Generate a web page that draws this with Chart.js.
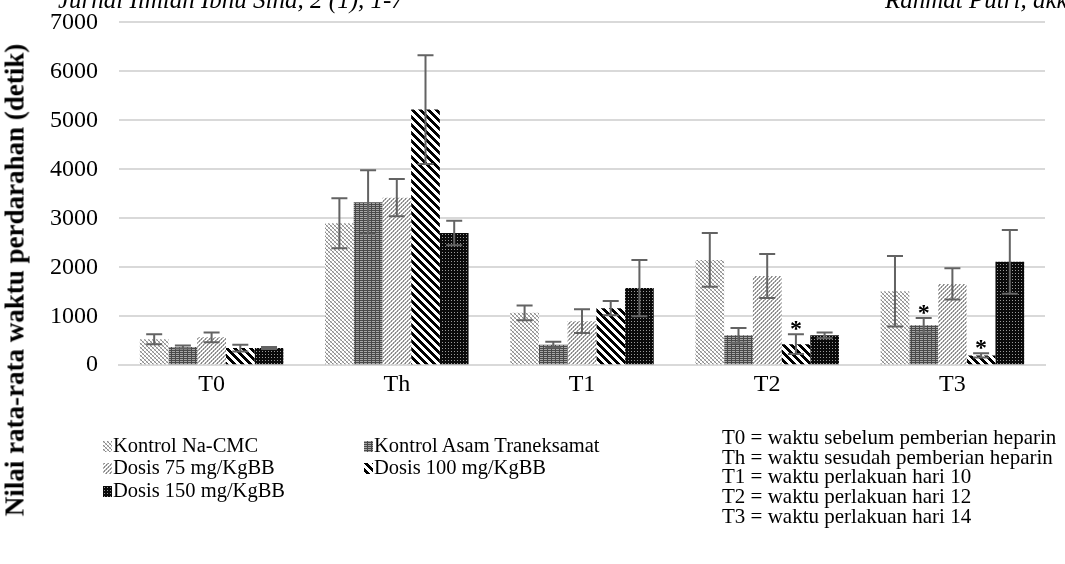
<!DOCTYPE html>
<html>
<head>
<meta charset="utf-8">
<script src="https://cdn.jsdelivr.net/npm/chart.js@4"></script>
<style>
  body { margin: 0; background: #fff; }
  #wrap { position: relative; width: 1065px; height: 564px; overflow: hidden; font-family: "Liberation Serif", "Times New Roman", serif; color: #000; }
  #chart { position: absolute; left: 0; top: -13px; }
  .hdr { position: absolute; top: -13px; font-size: 25px; line-height: 25px; font-style: italic; white-space: nowrap; }
  #ytitle { position: absolute; left: 15px; top: 280px; transform: translate(-50%, -50%) rotate(-90deg); font-size: 27px; font-weight: bold; white-space: nowrap; }
  .leg { position: absolute; font-size: 20.5px; line-height: 22px; white-space: nowrap; }
  .leg canvas { vertical-align: 0px; margin-right: 1px; }
  #notes { position: absolute; left: 722px; top: 428px; font-size: 21px; line-height: 19.7px; white-space: nowrap; }
</style>
</head>
<body>
<div id="wrap">
  <canvas id="chart" width="1065" height="577"></canvas>
  <div class="hdr" style="left:58px">Jurnal Ilmiah Ibnu Sina, 2 (1), 1-7</div>
  <div class="hdr" style="left:885px">Rahmat Putri, dkk.</div>
  <div id="ytitle">Nilai rata-rata waktu perdarahan (detik)</div>
  <div id="legend"></div>
  <div id="notes"></div>
</div>
<script>
// waktu pengamatan
var categories = ["T0", "Th", "T1", "T2", "T3"];

var seriesNames = ["Kontrol Na-CMC", "Kontrol Asam Traneksamat", "Dosis 75 mg/KgBB", "Dosis 100 mg/KgBB", "Dosis 150 mg/KgBB"];

// rata-rata waktu perdarahan (detik)
var naCmc    = [530, 2900, 1070, 2150, 1510];
var asam     = [370, 3330, 420, 610, 815];
var dosis75  = [570, 3420, 900, 1820, 1660];
var dosis100 = [350, 5220, 1165, 430, 200];
var dosis150 = [350, 2700, 1575, 610, 2110];

// simpangan (error bar)
var naCmcErr    = [100, 510, 150, 550, 720];
var asamErr     = [30, 650, 60, 150, 150];
var dosis75Err  = [100, 380, 245, 450, 320];
var dosis100Err = [70, 1110, 145, 200, 45];
var dosis150Err = [20, 250, 575, 60, 650];

// tanda * (seri, kategori)
var starSeries = [3, 1, 3];
var starCats   = ["T2", "T3", "T3"];

var yTicks = [0, 1000, 2000, 3000, 4000, 5000, 6000, 7000];

var notes = [
  "T0 = waktu sebelum pemberian heparin",
  "Th = waktu sesudah pemberian heparin",
  "T1 = waktu perlakuan hari 10",
  "T2 = waktu perlakuan hari 12",
  "T3 = waktu perlakuan hari 14"
];

/* ---------- fill patterns ---------- */
function makeTile(size, fn) {
  var c = document.createElement("canvas");
  c.width = size; c.height = size;
  var g = c.getContext("2d");
  for (var y = 0; y < size; y++) {
    for (var x = 0; x < size; x++) {
      g.fillStyle = fn(x, y);
      g.fillRect(x, y, 1, 1);
    }
  }
  return c;
}

var tiles = [
  makeTile(4, function (x, y) { return ((x - y + 8) % 4 === 0) ? "#8a8a8a" : (((x + y) % 4 === 1) ? "#c8c8c8" : "#ffffff"); }),
  makeTile(4, function (x, y) { return (y % 2 === 0 && x !== 3) ? "#a8a8a8" : "#4a4a4a"; }),
  makeTile(4, function (x, y) { return ((x + y) % 4 < 2) ? ((x % 2) ? "#8c8c8c" : "#b0b0b0") : "#ffffff"; }),
  makeTile(8, function (x, y) { return ((x - y + 16) % 8 < 4) ? "#000000" : "#ffffff"; }),
  makeTile(3, function (x, y) { return (x === 1 && y === 1) ? "#9a9a9a" : "#0a0a0a"; })
];

var ctx = document.getElementById("chart").getContext("2d");
var patterns = tiles.map(function (t) { return ctx.createPattern(t, "repeat"); });

var values = [naCmc, asam, dosis75, dosis100, dosis150];
var errors = [naCmcErr, asamErr, dosis75Err, dosis100Err, dosis150Err];

/* ---------- error bars + asterisks ---------- */
var extras = {
  id: "extras",
  afterDatasetsDraw: function (chart) {
    var c = chart.ctx;
    var ys = chart.scales.y;
    c.save();
    c.strokeStyle = "#636363";
    c.lineWidth = 2;
    for (var d = 0; d < values.length; d++) {
      var meta = chart.getDatasetMeta(d);
      meta.data.forEach(function (bar, i) {
        var v = values[d][i], e = errors[d][i];
        var yt = ys.getPixelForValue(v + e);
        var yb = ys.getPixelForValue(v - e);
        c.beginPath();
        c.moveTo(bar.x, yt); c.lineTo(bar.x, yb);
        c.moveTo(bar.x - 8, yt); c.lineTo(bar.x + 8, yt);
        c.moveTo(bar.x - 8, yb); c.lineTo(bar.x + 8, yb);
        c.stroke();
      });
    }
    c.fillStyle = "#000";
    c.font = "bold 24px 'Liberation Serif'";
    c.textAlign = "center";
    c.textBaseline = "alphabetic";
    for (var s = 0; s < starSeries.length; s++) {
      var k = categories.indexOf(starCats[s]);
      var b = chart.getDatasetMeta(starSeries[s]).data[k];
      var top = ys.getPixelForValue(values[starSeries[s]][k] + errors[starSeries[s]][k]);
      c.fillText("*", b.x, top + 2);
    }
    c.restore();
  }
};

new Chart(ctx, {
  type: "bar",
  data: {
    labels: categories,
    datasets: values.map(function (v, i) {
      return {
        label: seriesNames[i],
        data: v,
        backgroundColor: patterns[i],
        borderWidth: 0,
        barPercentage: 1.0,
        categoryPercentage: 0.775
      };
    })
  },
  options: {
    responsive: false,
    animation: false,
    layout: { padding: { top: 0, right: 20, bottom: 168, left: 0 } },
    plugins: {
      legend: { display: false },
      tooltip: { enabled: false }
    },
    scales: {
      x: {
        grid: { display: false },
        border: { color: "#d9d9d9", width: 2 },
        ticks: { color: "#000", font: { family: "Liberation Serif", size: 24 }, padding: -3 }
      },
      y: {
        min: 0,
        max: 7000,
        afterBuildTicks: function (axis) { axis.ticks = yTicks.map(function (v) { return { value: v }; }); },
        afterFit: function (axis) { axis.width = 119; },
        grid: { color: "#d9d9d9", lineWidth: 2, drawTicks: false },
        border: { display: false },
        ticks: {
          color: "#000",
          font: { family: "Liberation Serif", size: 24 },
          padding: 21,
          callback: function (v) { return String(v); }
        }
      }
    }
  },
  plugins: [extras]
});

/* ---------- legend & keterangan ---------- */
var legPos = [[103, 434], [364, 434], [103, 456], [364, 456], [103, 479]];
var legend = document.getElementById("legend");
seriesNames.forEach(function (name, i) {
  var d = document.createElement("div");
  d.className = "leg";
  d.style.left = legPos[i][0] + "px";
  d.style.top = legPos[i][1] + "px";
  var sw = document.createElement("canvas");
  sw.width = 9; sw.height = 11;
  var g = sw.getContext("2d");
  g.fillStyle = g.createPattern(tiles[i], "repeat");
  g.fillRect(0, 0, 9, 11);
  d.appendChild(sw);
  d.appendChild(document.createTextNode(name));
  legend.appendChild(d);
});
document.getElementById("notes").innerHTML = notes.join("<br>");
</script>
</body>
</html>
